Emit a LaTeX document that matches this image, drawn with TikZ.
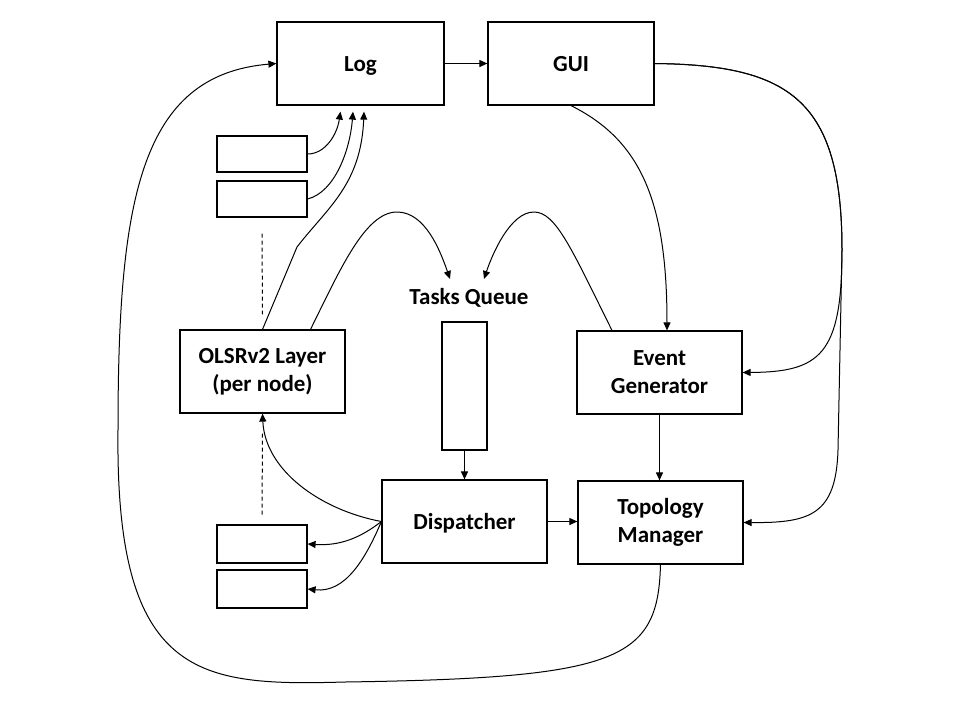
\documentclass[tikz,border=0pt]{standalone}
\usepackage{fontspec}
\setmainfont{Carlito}
\usetikzlibrary{calc,arrows.meta}
\tikzset{
  blk/.style={draw, line width=0.6pt, fill=white, inner sep=0pt, align=center,
    minimum width=82.5pt, minimum height=41.5pt,
    font=\bfseries\fontsize{11.5}{14}\selectfont},
  oneline/.style={text height=9.5pt, text depth=1.4pt},
  smallbox/.style={draw, line width=0.6pt, fill=white, inner sep=0pt,
    minimum width=45pt, minimum height=18pt},
  conn/.style={line width=0.5pt, -{Triangle[length=4pt,width=3.5pt]}},
  dashline/.style={line width=0.5pt, dash pattern=on 2pt off 1.5pt}
}
\begin{document}
\begin{tikzpicture}[x=0.5pt,y=-0.5pt]
\useasboundingbox[fill=white] (0,0) rectangle (960,720);
% nodes
\node[blk, oneline, minimum width=83.5pt] (log) at (360.5,63.5) {Log};
\node[blk, oneline, minimum width=83pt] (gui) at (571,63.5) {GUI};
\node[smallbox] (s1) at (262,154) {};
\node[smallbox] (s2) at (262,199) {};
\node[blk] (olsr) at (262.5,371.5) {OLSRv2 Layer\\(per node)};
\node[font=\bfseries\fontsize{11.5}{14}\selectfont, inner sep=0pt] (tq) at (469,298) {Tasks Queue};
\node[draw, line width=0.6pt, inner sep=0pt, minimum width=22.5pt, minimum height=64pt] (q) at (464.5,386) {};
\node[blk] (eg) at (659.5,372.5) {Event\\Generator};
\node[blk, oneline] (disp) at (464.5,521.5) {Dispatcher};
\node[blk] (tm) at (660.5,522.5) {Topology\\Manager};
\node[smallbox, minimum height=19pt] (s3) at (262,544) {};
\node[smallbox, minimum height=19pt] (s4) at (262,589) {};

% Log -> GUI
\draw[conn] (log.east) -- (gui.west);
% small boxes -> Log
\draw[conn] (s1.east) .. controls (325,154) and (337,135) .. ($(log.south)+(-20,6)$);
\draw[conn] (s2.east) .. controls (335,192) and (350,150) .. ($(log.south)+(-7.5,6)$);
\draw[conn] (olsr.north) -- (297,247) .. controls (327,208) and (361,185) .. ($(log.south)+(3.5,6)$);
% OLSR -> Tasks Queue
\draw[conn] ($(olsr.north)+(48,0)$) .. controls (340,270) and (365,212) .. (397,212)
   .. controls (425,212) and (440,250) .. ($(tq.center)+(-19,-19)$);
% Event Generator -> Tasks Queue
\draw[conn] ($(eg.north)+(-47.5,0)$) .. controls (572,250) and (556,212) .. (534,212)
   .. controls (510,212) and (492,255) .. ($(tq.center)+(15,-19)$);
% GUI -> Event Generator
\draw[conn] (gui.south) .. controls (640,140) and (667,200) .. ($(eg.north)+(7.5,0)$);
% GUI -> Event Generator (right)
\draw[conn] (gui.east) .. controls (790,65) and (842,100) .. (842,250)
   .. controls (842,355) and (820,372) .. (eg.east);
% GUI -> Topology Manager (right)
\draw[conn] (gui.east) .. controls (790,65) and (842,100) .. (842,250)
   -- (838,450) .. controls (836,515) and (810,523) .. (tm.east);
% Event Generator -> Topology Manager
\draw[conn] (eg.south) -- (eg.south |- tm.north);
% Queue -> Dispatcher
\draw[conn] (q.south) -- (disp.north);
% Dispatcher -> Topology Manager
\draw[conn] (disp.east) -- (disp.east -| tm.west);
% Dispatcher -> OLSR
\draw[conn] (disp.west) .. controls (320,510) and (265,470) .. (olsr.south);
% Dispatcher -> small boxes
\draw[conn] (disp.west) .. controls (360,538) and (340,546) .. (s3.east);
\draw[conn] (disp.west) .. controls (365,560) and (345,593) .. (s4.east);
% dashed lines
\draw[dashline] ($(s2.south)+(0,16)$) -- ($(olsr.north)+(0,-15)$);
\draw[dashline] ($(olsr.south)+(0,20)$) -- ($(s3.north)+(0,-7)$);
% Topology Manager -> Log (big loop)
\draw[conn] (tm.south) .. controls (658,660) and (620,678) .. (345,682)
   .. controls (200,686) and (115,680) .. (118,430)
   .. controls (118,200) and (140,75) .. (log.west);
\end{tikzpicture}
\end{document}
